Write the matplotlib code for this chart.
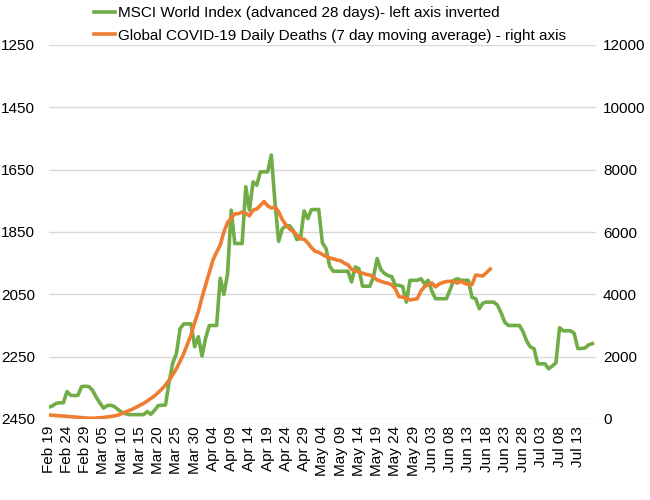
"""
MSCI World Index (advanced 28 days, inverted) against global COVID-19 daily deaths.
"""

import numpy as np
import pandas as pd
import matplotlib
matplotlib.use("Agg")
import matplotlib.pyplot as plt

plt.rcParams['font.family'] = ['Liberation Sans', 'DejaVu Sans']

# daily dates, first day of the x axis
dates = pd.date_range("2020-02-19", periods=151, freq="D")

# MSCI World Index, shifted forward 28 days (left axis, inverted)
msci = [
    2412, 2408, 2400, 2398, 2398, 2362, 2374, 2375, 2374, 2346,
    2345, 2346, 2358, 2380, 2398, 2415, 2407, 2406, 2410, 2420,
    2428, 2433, 2436, 2436, 2436, 2436, 2436, 2426, 2435, 2422,
    2407, 2406, 2405, 2330, 2270, 2240, 2160, 2145, 2145, 2145,
    2218, 2186, 2248, 2190, 2150, 2150, 2150, 1998, 2050, 1985,
    1780, 1887, 1887, 1887, 1705, 1780, 1689, 1700, 1657, 1657,
    1657, 1603, 1755, 1880, 1840, 1830, 1830, 1845, 1874, 1870,
    1782, 1807, 1778, 1778, 1778, 1885, 1903, 1960, 1976, 1976,
    1976, 1976, 1976, 2010, 1962, 1968, 2024, 2024, 2024, 1994,
    1935, 1970, 1983, 1990, 1993, 2021, 2021, 2025, 2075, 2005,
    2005, 2005, 2000, 2016, 2005, 2040, 2064, 2064, 2064, 2064,
    2035, 2005, 2000, 2005, 2005, 2005, 2060, 2064, 2096, 2078,
    2075, 2075, 2075, 2085, 2110, 2140, 2150, 2150, 2150, 2150,
    2170, 2200, 2219, 2224, 2273, 2273, 2273, 2289, 2280, 2270,
    2157, 2167, 2167, 2167, 2175, 2224, 2224, 2222, 2212, 2208,
]

# global COVID-19 daily deaths, 7 day moving average (right axis)
deaths = [
    130, 120, 110, 100, 95, 85, 75, 65, 55, 45,
    35, 25, 25, 30, 40, 50, 65, 80, 100, 125,
    170, 220, 270, 320, 380, 440, 500, 580, 660, 740,
    850, 960, 1090, 1250, 1420, 1620, 1850, 2100, 2400, 2700,
    3100, 3450, 3900, 4300, 4700, 5100, 5350, 5580, 6000, 6300,
    6450, 6580, 6590, 6640, 6600, 6520, 6700, 6740, 6850, 6980,
    6840, 6770, 6800, 6650, 6400, 6230, 6100, 6020, 5900, 5780,
    5770, 5650, 5500, 5380, 5350, 5280, 5215, 5170, 5140, 5100,
    5080, 5000, 4950, 4800, 4760, 4710, 4680, 4640, 4620, 4560,
    4460, 4420, 4380, 4350, 4310, 4170, 3920, 3910, 3880, 3820,
    3840, 3860, 4100, 4250, 4310, 4360, 4240, 4330, 4380, 4410,
    4420, 4410, 4360, 4420, 4350, 4320, 4310, 4620, 4600, 4590,
    4700, 4810,
]

left_ticks = [1250, 1450, 1650, 1850, 2050, 2250, 2450]
right_ticks = [0, 2000, 4000, 6000, 8000, 10000, 12000]

green = '#70AD47'
orange = '#ED7D31'
grid_col = '#D9D9D9'

fig = plt.figure(figsize=(6.5, 5), dpi=100)
ax = fig.add_axes([0.075, 0.162, 0.842, 0.748])
ax2 = ax.twinx()

x_msci = np.arange(len(msci))
x_deaths = np.arange(len(deaths))

l1, = ax.plot(x_msci, msci, color=green, lw=2.6, zorder=3,
              label='MSCI World Index (advanced 28 days)- left axis inverted')
l2, = ax2.plot(x_deaths, deaths, color=orange, lw=2.6, zorder=4,
               label='Global COVID-19 Daily Deaths (7 day moving average) - right axis')

ax.set_ylim(2450, 1250)
ax.set_yticks(left_ticks)
ax2.set_ylim(0, 12000)
ax2.set_yticks(right_ticks)
ax.set_xlim(0, 150)

tick_pos = np.arange(0, 146, 5)
ax.set_xticks(tick_pos)
ax.set_xticklabels([dates[i].strftime('%b %d') for i in tick_pos], rotation=90)

ax.grid(axis='y', color=grid_col, lw=1)
ax.set_axisbelow(True)
for a in (ax, ax2):
    for s in a.spines.values():
        s.set_visible(False)
    a.tick_params(length=0, labelsize=11, colors='#000000')
ax.tick_params(axis='y', pad=10)
ax2.tick_params(axis='y', pad=5)
ax.tick_params(axis='x', pad=5)

fig.legend(handles=[l1, l2], loc='upper left', bbox_to_anchor=(0.135, 1.0),
           frameon=False, fontsize=11, handlelength=1.4, handletextpad=0.2,
           labelspacing=0.55, borderaxespad=0)

fig.savefig('out.png', dpi=100)
